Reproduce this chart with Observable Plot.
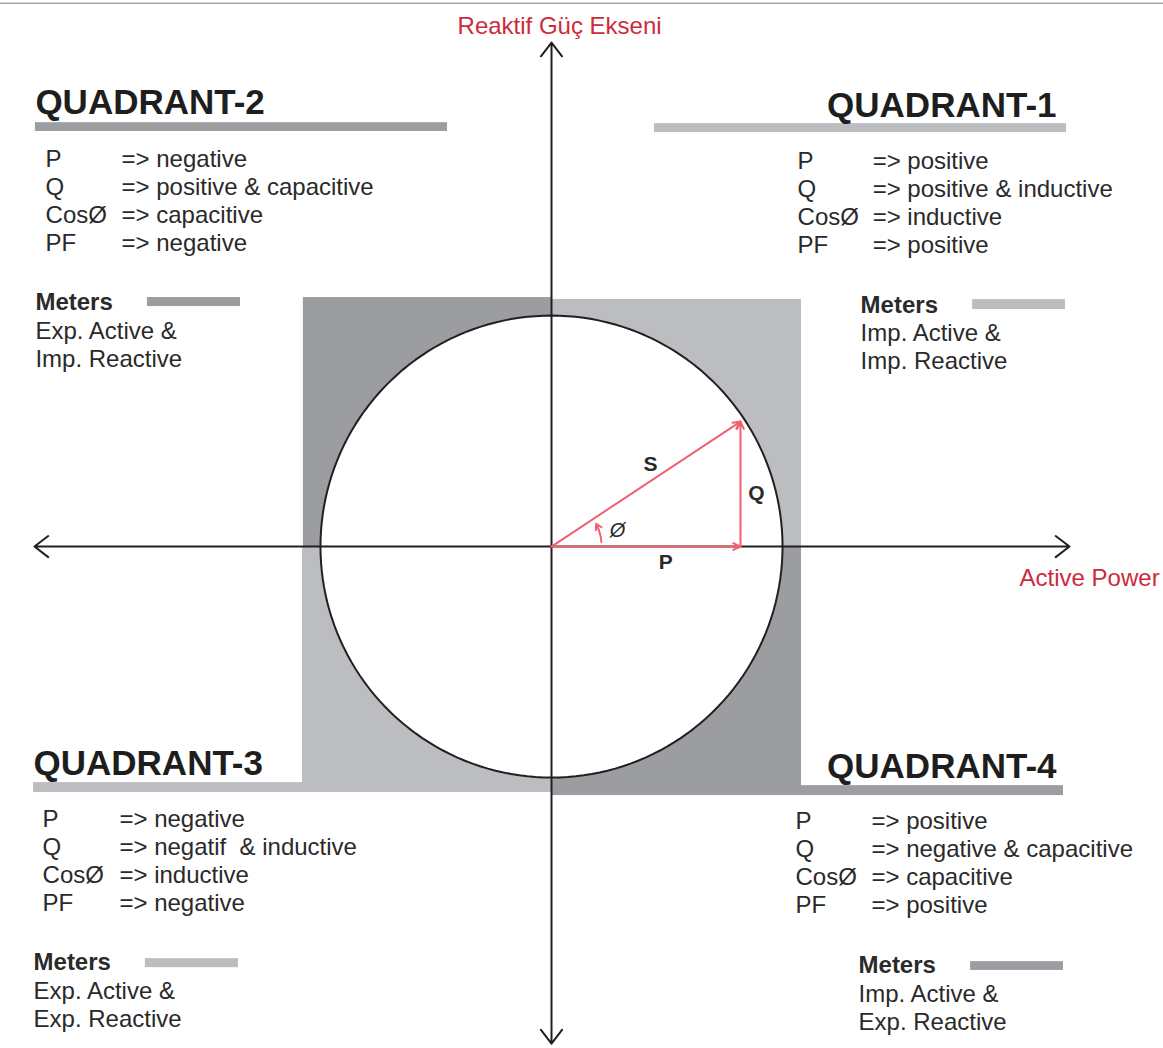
<!DOCTYPE html>
<html><head><meta charset="utf-8">
<script src="https://cdn.jsdelivr.net/npm/d3@7"></script>
<script src="https://cdn.jsdelivr.net/npm/@observablehq/plot@0.6"></script>
<style>
html,body{margin:0;padding:0;background:#fff;}
#chart svg{display:block;}
</style></head><body><div id="chart"></div>
<script>
// ---------- Data ----------
const quadrants = ["QUADRANT-1", "QUADRANT-2", "QUADRANT-3", "QUADRANT-4"];
const rowLabels = ["P", "Q", "CosØ", "PF"];
const pValues = ["positive", "negative", "negative", "positive"];
const qValues = ["positive & inductive", "positive & capacitive", "negatif\u00a0 & inductive", "negative & capacitive"];
const cosValues = ["inductive", "capacitive", "inductive", "capacitive"];
const pfValues = ["positive", "negative", "negative", "positive"];
const meterTitle = "Meters";
const meterActive = ["Imp. Active &", "Exp. Active &", "Exp. Active &", "Imp. Active &"];
const meterReactive = ["Imp. Reactive", "Imp. Reactive", "Exp. Reactive", "Exp. Reactive"];
const quadrantShade = ["light", "dark", "light", "dark"];
const meterShade = ["light", "dark", "light", "dark"];
const vectorP = 0.818;   // active component (circle radius = 1)
const vectorQ = 0.541;   // reactive component
const reactiveAxisLabel = "Reaktif Güç Ekseni";
const activeAxisLabel = "Active Power";
const vectorLabels = ["S", "Q", "P"];
const angleLabel = "Ø";

// ---------- Layout (diagram units, circle radius = 1) ----------
const shadeColor = {light: "#bcbdc0", dark: "#9c9da1"};
const L = {
  xDomain: [-2.385, 2.649],
  yDomain: [-2.173, 2.364],
  topRule: 2.352,
  square: [[0, 1.082, 0, 1.070], [-1.074, 0, 0, 1.078], [-1.078, 0, -1.065, 0], [0, 1.082, -1.078, 0]],
  titleBar: [[0.446, 2.229, 1.792, 1.831], [-2.234, -0.450, 1.797, 1.835], [-2.242, -1.078, -1.065, -1.022], [1.082, 2.216, -1.078, -1.035]],
  meterBar: [[1.823, 2.225, 1.026, 1.069], [-1.749, -1.346, 1.039, 1.078], [-1.758, -1.355, -1.823, -1.784], [1.814, 2.216, -1.835, -1.797]],
  title: [{x: 2.186, y: 1.861, a: "end"}, {x: -2.234, y: 1.874, a: "start"}, {x: -2.242, y: -0.991, a: "start"}, {x: 2.186, y: -1.004, a: "end"}],
  rows: [{lx: 1.065, ax: 1.390, y0: 1.636}, {lx: -2.190, ax: -1.861, y0: 1.645}, {lx: -2.203, ax: -1.870, y0: -1.212}, {lx: 1.056, ax: 1.385, y0: -1.221}],
  rowStep: 0.1212,
  meters: [{x: 1.338, y0: 1.013}, {x: -2.234, y0: 1.022}, {x: -2.242, y0: -1.835}, {x: 1.329, y0: -1.848}],
  meterStep: 0.123,
  axisEnds: {left: -2.238, right: 2.242, top: 2.182, bottom: -2.152},
  reactiveLabel: {x: 0.035, y: 2.221},
  activeLabel: {x: 2.026, y: -0.169},
  vectorLabelPos: [[0.429, 0.355], [0.887, 0.229], [0.494, -0.069]],
  angleLabelPos: [0.286, 0.069],
  arc: {r: 0.217, a0: 5, a1: 27}
};

// ---------- Derived tables ----------
const box = (arr, i) => ({x1: arr[i][0], x2: arr[i][1], y1: arr[i][2], y2: arr[i][3]});
const squares = quadrants.map((q, i) => ({q, shade: quadrantShade[i], ...box(L.square, i)}));
const titleBars = quadrants.map((q, i) => ({q, shade: quadrantShade[i], ...box(L.titleBar, i)}));
const meterBars = quadrants.map((q, i) => ({q, shade: meterShade[i], ...box(L.meterBar, i)}));
const titles = quadrants.map((q, i) => ({text: q, ...L.title[i]}));
const titlesStart = titles.filter(d => d.a === "start");
const titlesEnd = titles.filter(d => d.a === "end");
const rowTexts = [];
quadrants.forEach((q, i) => {
  const vals = [pValues[i], qValues[i], cosValues[i], pfValues[i]];
  rowLabels.forEach((lab, j) => {
    const y = L.rows[i].y0 - j * L.rowStep;
    rowTexts.push({text: lab, x: L.rows[i].lx, y});
    rowTexts.push({text: "=> " + vals[j], x: L.rows[i].ax, y});
  });
});
const meterHeads = quadrants.map((q, i) => ({text: meterTitle, x: L.meters[i].x, y: L.meters[i].y0}));
const meterLines = [];
quadrants.forEach((q, i) => {
  meterLines.push({text: meterActive[i], x: L.meters[i].x, y: L.meters[i].y0 - L.meterStep});
  meterLines.push({text: meterReactive[i], x: L.meters[i].x, y: L.meters[i].y0 - 2 * L.meterStep});
});
const circlePts = d3.range(0, 361, 2).map(a => ({x: Math.cos(a * Math.PI / 180), y: Math.sin(a * Math.PI / 180)}));
const axes = [
  {x1: 0, y1: 0, x2: L.axisEnds.left, y2: 0},
  {x1: 0, y1: 0, x2: L.axisEnds.right, y2: 0},
  {x1: 0, y1: 0, x2: 0, y2: L.axisEnds.top},
  {x1: 0, y1: 0, x2: 0, y2: L.axisEnds.bottom}
];
const vectors = [
  {x1: 0, y1: 0, x2: vectorP, y2: vectorQ},
  {x1: 0, y1: 0, x2: vectorP, y2: 0},
  {x1: vectorP, y1: 0, x2: vectorP, y2: vectorQ}
];
const rad = d => d * Math.PI / 180;
const arc = [{x1: L.arc.r * Math.cos(rad(L.arc.a0)), y1: L.arc.r * Math.sin(rad(L.arc.a0)), x2: L.arc.r * Math.cos(rad(L.arc.a1)), y2: L.arc.r * Math.sin(rad(L.arc.a1))}];
const vLabels = vectorLabels.map((t, i) => ({text: t, x: L.vectorLabelPos[i][0], y: L.vectorLabelPos[i][1]}));

const FONT = "'Liberation Sans', Arial, Helvetica, sans-serif";
const RED = "#f0606f";
const TXT = "#2a2a2a";
const FS = 24;

const chart = Plot.plot({
  width: 1163,
  height: 1048,
  margin: 0,
  x: {domain: L.xDomain, axis: null},
  y: {domain: L.yDomain, axis: null},
  style: {fontFamily: FONT, background: "#fff"},
  marks: [
    Plot.ruleY([L.topRule], {stroke: "#a8a8a8", strokeWidth: 1.5}),
    Plot.rect(squares, {x1: "x1", x2: "x2", y1: "y1", y2: "y2", fill: d => shadeColor[d.shade]}),
    Plot.rect(titleBars, {x1: "x1", x2: "x2", y1: "y1", y2: "y2", fill: d => shadeColor[d.shade]}),
    Plot.rect(meterBars, {x1: "x1", x2: "x2", y1: "y1", y2: "y2", fill: d => shadeColor[d.shade]}),
    Plot.line(circlePts, {x: "x", y: "y", stroke: "#231f20", strokeWidth: 2, fill: "#fff"}),
    Plot.arrow(axes, {x1: "x1", y1: "y1", x2: "x2", y2: "y2", stroke: "#231f20", strokeWidth: 2, headLength: 13, headAngle: 75}),
    Plot.arrow(vectors, {x1: "x1", y1: "y1", x2: "x2", y2: "y2", stroke: RED, strokeWidth: 2, headLength: 6, headAngle: 50}),
    Plot.arrow(arc, {x1: "x1", y1: "y1", x2: "x2", y2: "y2", stroke: RED, strokeWidth: 2, bend: -11, headLength: 5, headAngle: 60}),
    Plot.text(vLabels, {x: "x", y: "y", text: "text", fontSize: 21, fontWeight: "bold", fill: TXT}),
    Plot.text([{text: angleLabel, x: L.angleLabelPos[0], y: L.angleLabelPos[1]}], {x: "x", y: "y", text: "text", fontSize: 20, fontStyle: "italic", fill: TXT}),
    Plot.text(titlesStart, {x: "x", y: "y", text: "text", textAnchor: "start", lineAnchor: "bottom", fontSize: 35, fontWeight: "bold", fill: "#1e1e1e"}),
    Plot.text(titlesEnd, {x: "x", y: "y", text: "text", textAnchor: "end", lineAnchor: "bottom", fontSize: 35, fontWeight: "bold", fill: "#1e1e1e"}),
    Plot.text(rowTexts, {x: "x", y: "y", text: "text", textAnchor: "start", lineAnchor: "bottom", fontSize: FS, fill: TXT}),
    Plot.text(meterHeads, {x: "x", y: "y", text: "text", textAnchor: "start", lineAnchor: "bottom", fontSize: FS, fontWeight: "bold", fill: TXT}),
    Plot.text(meterLines, {x: "x", y: "y", text: "text", textAnchor: "start", lineAnchor: "bottom", fontSize: FS, fill: TXT}),
    Plot.text([{text: reactiveAxisLabel, ...L.reactiveLabel}], {x: "x", y: "y", text: "text", textAnchor: "middle", lineAnchor: "bottom", fontSize: FS, fill: "#cc2b3d"}),
    Plot.text([{text: activeAxisLabel, ...L.activeLabel}], {x: "x", y: "y", text: "text", textAnchor: "start", lineAnchor: "bottom", fontSize: FS, fill: "#cc2b3d"})
  ]
});
document.getElementById("chart").appendChild(chart);
</script></body></html>
